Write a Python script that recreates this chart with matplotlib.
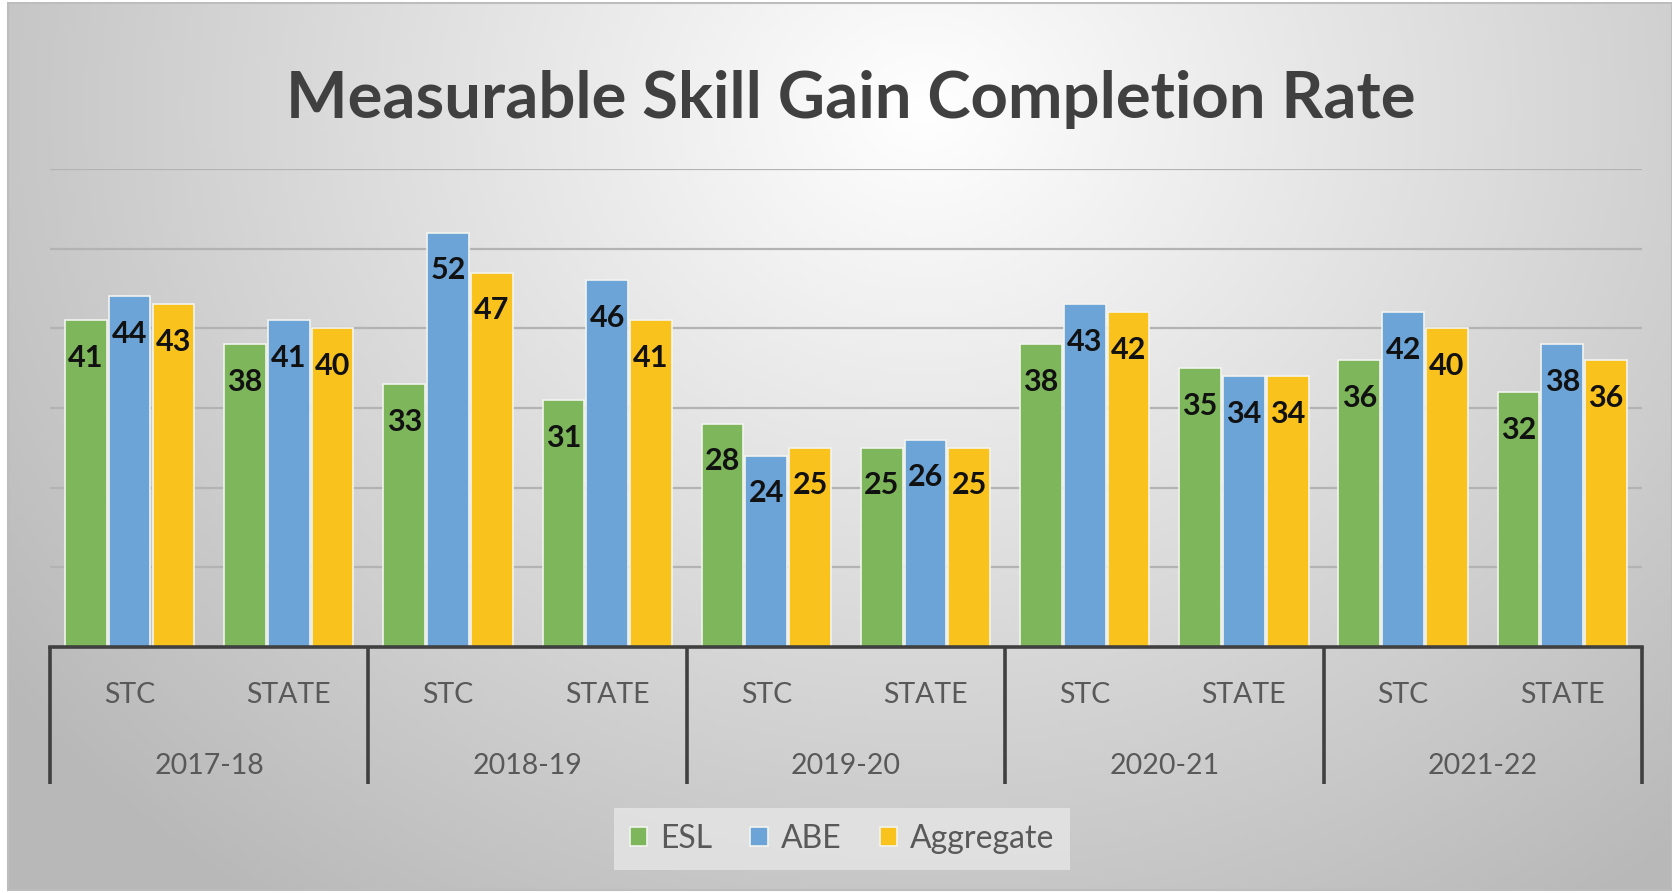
import numpy as np
import matplotlib
matplotlib.use("Agg")
import matplotlib.pyplot as plt
from matplotlib.patches import Rectangle

plt.rcParams['font.family'] = ['Lato', 'DejaVu Sans']

years = ['2017-18', '2018-19', '2019-20', '2020-21', '2021-22']
groups = ['STC', 'STATE']
esl = [41, 38, 33, 31, 28, 25, 38, 35, 36, 32]
abe = [44, 41, 52, 46, 24, 26, 43, 34, 42, 38]
aggregate = [43, 40, 47, 41, 25, 25, 42, 34, 40, 36]

series = [('ESL', esl, '#7DB65B'), ('ABE', abe, '#6CA4D8'), ('Aggregate', aggregate, '#FAC21D')]

fig = plt.figure(figsize=(16.72, 8.93), dpi=100)
fig.patch.set_facecolor('white')

# background gradient of the chart area
bg = fig.add_axes([0.005, 0.003, 0.995, 0.994], zorder=-10)
gx, gy = np.meshgrid(np.linspace(0, 1, 400), np.linspace(0, 1, 220))
r = np.sqrt(((gx - 0.55) / 0.62) ** 2 + ((gy - 0.12) / 1.0) ** 2)
shade = 1.0 - 0.25 * np.clip(r, 0, 1.1)
bg.imshow(np.dstack([shade, shade, shade]), aspect='auto', extent=[0, 1, 1, 0])
bg.set_xlim(0, 1)
bg.set_ylim(1, 0)
bg.axis('off')
fig.patches.append(Rectangle((0.005, 0.003), 0.995, 0.9935, transform=fig.transFigure,
                             fill=False, edgecolor='#bdbdbd', lw=1.5))

ax = fig.add_axes([0.0299, 0.2755, 0.9521, 0.5353])
ax.patch.set_alpha(0)

x = np.arange(len(esl))
offsets = [-0.275, 0, 0.275]
for (name, vals, col), off in zip(series, offsets):
    bars = ax.bar(x + off, vals, width=0.262, color=col, edgecolor='#f2f4ee', linewidth=1.2,
                  label=name, zorder=3)
    for b, v in zip(bars, vals):
        ax.annotate(str(v), (b.get_x() + b.get_width() / 2, v), xytext=(0, -27),
                    textcoords='offset points', ha='center', va='center',
                    fontsize=22, fontweight='bold', color='#111111', zorder=5)

ax.set_xlim(-0.5, 9.5)
ax.set_ylim(0, 60)
ax.set_yticks(range(10, 61, 10))
ax.yaxis.grid(True, color='#b3b3b3', linewidth=1.6, zorder=0)
ax.set_axisbelow(True)
ax.tick_params(left=False, labelleft=False, bottom=False, labelbottom=False)
for s in ['top', 'right', 'left']:
    ax.spines[s].set_visible(False)
ax.spines['bottom'].set_color('#404040')
ax.spines['bottom'].set_linewidth(2.6)
ax.spines['bottom'].set_zorder(6)

# two-level category axis
tr = ax.get_xaxis_transform()
for i in range(len(x)):
    ax.text(x[i], -0.1, groups[i % 2], transform=tr, ha='center', va='center',
            fontsize=20.5, color='#595959')
for j, yr in enumerate(years):
    ax.text(2 * j + 0.5, -0.249, yr, transform=tr, ha='center', va='center',
            fontsize=20.5, color='#595959')
for sx in np.arange(-0.5, 10, 2):
    ax.plot([sx, sx], [0, -0.2866], transform=tr, color='#404040', lw=2.6,
            clip_on=False, solid_capstyle='butt', zorder=6)

fig.text(0.509, 0.889, 'Measurable Skill Gain Completion Rate', ha='center', va='center',
         fontsize=47, fontweight='bold', color='#404040')

leg = fig.legend(loc='center', bbox_to_anchor=(0.5036, 0.0605), ncol=3, fontsize=23,
                 frameon=True, handlelength=0.55, handleheight=0.55, handletextpad=0.4,
                 columnspacing=1.2, borderpad=0.5, fancybox=False)
leg.get_frame().set_facecolor('#e6e6e6')
leg.get_frame().set_edgecolor('none')
leg.get_frame().set_alpha(0.8)
for t in leg.get_texts():
    t.set_color('#595959')

fig.savefig('out.png', dpi=100)
